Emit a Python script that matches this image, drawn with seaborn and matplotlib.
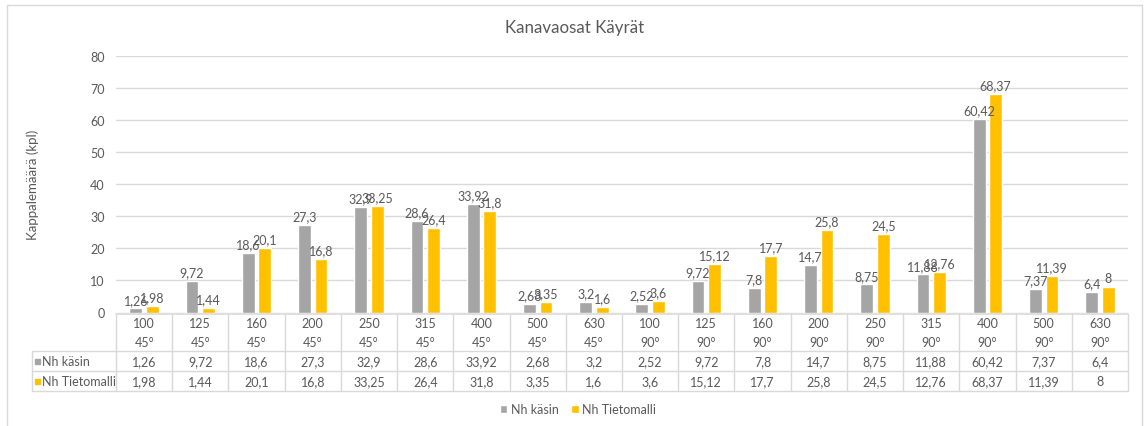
import pandas as pd
import matplotlib.pyplot as plt
import seaborn as sns
from matplotlib.lines import Line2D
from matplotlib.patches import Rectangle
from matplotlib.transforms import blended_transform_factory

sizes = ["100", "125", "160", "200", "250", "315", "400", "500", "630",
         "100", "125", "160", "200", "250", "315", "400", "500", "630"]
angles = ["45°"] * 9 + ["90°"] * 9
nh_kasin = [1.26, 9.72, 18.6, 27.3, 32.9, 28.6, 33.92, 2.68, 3.2,
            2.52, 9.72, 7.8, 14.7, 8.75, 11.88, 60.42, 7.37, 6.4]
nh_tietomalli = [1.98, 1.44, 20.1, 16.8, 33.25, 26.4, 31.8, 3.35, 1.6,
                 3.6, 15.12, 17.7, 25.8, 24.5, 12.76, 68.37, 11.39, 8]
series = ["Nh käsin", "Nh Tietomalli"]
colors = ["#A5A5A5", "#FFC000"]
txt = "#595959"
grid = "#D9D9D9"

W, H = 1146, 427
cats = [f"{s}\n{a}" for s, a in zip(sizes, angles)]
df = pd.DataFrame({
    "cat": cats * 2,
    "value": nh_kasin + nh_tietomalli,
    "series": [series[0]] * len(cats) + [series[1]] * len(cats),
})

def fmt(v):
    return f"{v:g}".replace(".", ",")

sns.set_style("white")
plt.rcParams["font.family"] = ["Lato", "DejaVu Sans"]
fs = 9

fig = plt.figure(figsize=(W / 100, H / 100), dpi=100)
ax = fig.add_axes([116 / W, 1 - 313.5 / H, (1128 - 116) / W, (313.5 - 57.3) / H])

sns.barplot(data=df, x="cat", y="value", hue="series", order=cats,
            hue_order=series, palette=colors, width=0.59, gap=0.23,
            saturation=1, ax=ax, legend=True)

for cont, vals in zip(ax.containers, [nh_kasin, nh_tietomalli]):
    ax.bar_label(cont, labels=[fmt(v) for v in vals], padding=2,
                 fontsize=fs, color=txt)

ax.set_ylim(0, 80)
ax.set_xlim(-0.5, len(cats) - 0.5)
ax.set_yticks(range(0, 81, 10))
ax.tick_params(axis="y", labelsize=fs, labelcolor=txt, length=0, pad=8)
ax.set_xticks([])
ax.set_xlabel("")
ax.set_ylabel("")
ax.grid(axis="y", color=grid, linewidth=1)
ax.set_axisbelow(True)
for sp in ax.spines.values():
    sp.set_visible(False)

# data table under the plot
def fy(py):
    return 1 - py / H

tr = blended_transform_factory(ax.transData, fig.transFigure)
for i, (s, a) in enumerate(zip(sizes, angles)):
    ax.text(i, fy(324), s, transform=tr, ha="center", va="center",
            fontsize=fs, color=txt, clip_on=False)
    ax.text(i, fy(343), a, transform=tr, ha="center", va="center",
            fontsize=fs, color=txt, clip_on=False)
    ax.text(i, fy(362), fmt(nh_kasin[i]), transform=tr, ha="center",
            va="center", fontsize=fs, color=txt, clip_on=False)
    ax.text(i, fy(382), fmt(nh_tietomalli[i]), transform=tr, ha="center",
            va="center", fontsize=fs, color=txt, clip_on=False)

for i in range(len(cats) + 1):
    ax.add_line(Line2D([i - 0.5, i - 0.5], [fy(314.5), fy(392)], transform=tr,
                       color=grid, lw=1, clip_on=False))
left = 31.7 / W
right = 1128 / W
ax.add_line(Line2D([-0.5, len(cats) - 0.5], [fy(314.5)] * 2, transform=tr,
                   color=grid, lw=1.2, clip_on=False))
for py in [352, 372, 392]:
    fig.add_artist(Line2D([left, right], [fy(py)] * 2, color=grid, lw=1))
fig.add_artist(Line2D([left, left], [fy(352), fy(392)], color=grid, lw=1))

for py, name, c in [(362, series[0], colors[0]), (382, series[1], colors[1])]:
    fig.add_artist(Rectangle((35 / W, fy(py) - 2.5 / H), 5 / W, 5 / H,
                             color=c, transform=fig.transFigure))
    fig.text(41.5 / W, fy(py), name, ha="left", va="center", fontsize=fs,
             color=txt)

handles, labels = ax.get_legend_handles_labels()
ax.get_legend().remove()
fig.legend(handles, labels, loc="center", bbox_to_anchor=(578 / W, fy(410)),
           ncol=2, frameon=False, fontsize=fs, labelcolor=txt,
           handlelength=0.6, handleheight=0.6, handletextpad=0.3,
           columnspacing=1.0)

fig.text(575 / W, fy(28), "Kanavaosat Käyrät", ha="center", va="center",
         fontsize=12.2, color=txt)
fig.text(33 / W, fy(185), "Kappalemäärä (kpl)", ha="center", va="center",
         rotation=90, fontsize=9.5, color=txt)

# chart border
fig.add_artist(Rectangle((7 / W, -0.05), (1142 - 7) / W, fy(6) + 0.05,
                         fill=False, edgecolor=grid, lw=1,
                         transform=fig.transFigure))

fig.savefig("out.png", dpi=100)
